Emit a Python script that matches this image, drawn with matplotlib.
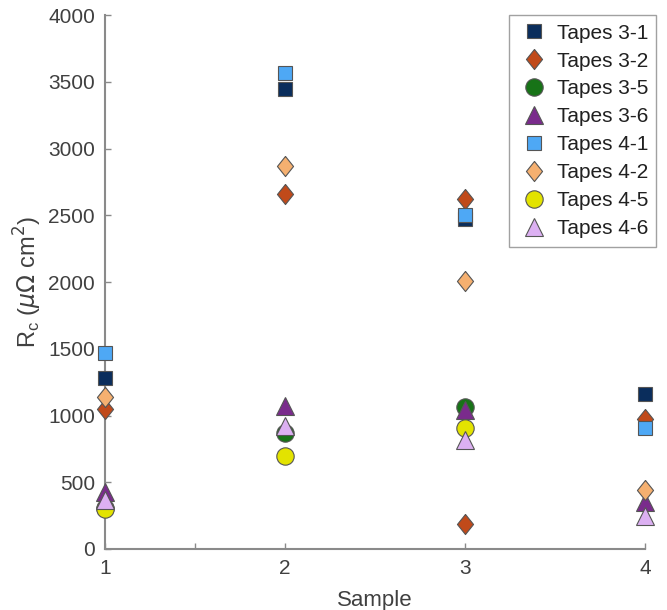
import matplotlib
matplotlib.use("Agg")
import matplotlib.pyplot as plt

plt.rcParams['font.family'] = ['Liberation Sans', 'DejaVu Sans']
plt.rcParams['mathtext.fontset'] = 'dejavusans'

labels = ["Tapes 3-1", "Tapes 3-2", "Tapes 3-5", "Tapes 3-6",
          "Tapes 4-1", "Tapes 4-2", "Tapes 4-5", "Tapes 4-6"]

x_31 = [1, 2, 3, 4];        y_31 = [1280, 3450, 2470, 1160]
x_32 = [1, 2, 3, 3, 4];     y_32 = [1050, 2660, 2620, 190, 975]
x_35 = [1, 2, 3];           y_35 = [310, 870, 1065]
x_36 = [1, 2, 3, 4];        y_36 = [430, 1070, 1040, 355]
x_41 = [1, 2, 3, 4];        y_41 = [1470, 3570, 2500, 905]
x_42 = [1, 2, 3, 4];        y_42 = [1140, 2870, 2010, 440]
x_45 = [1, 2, 3];           y_45 = [300, 700, 910]
x_46 = [1, 2, 3, 4];        y_46 = [370, 920, 820, 250]

xs = [x_31, x_32, x_35, x_36, x_41, x_42, x_45, x_46]
ys = [y_31, y_32, y_35, y_36, y_41, y_42, y_45, y_46]

diamond = [(0, 1), (0.8, 0), (0, -1), (-0.8, 0), (0, 1)]
colors = ["#0a2d5c", "#c04a1a", "#177317", "#7a2b8c",
          "#4ea8f5", "#f5b070", "#e3e300", "#dcb0f2"]
markers = ["s", diamond, "o", "^", "s", diamond, "o", "^"]
sizes = [9.5, 14.5, 12.5, 13, 9.5, 14.5, 12.5, 13]

xticks = [1, 1.5, 2, 3, 4]
xticklabels = ["1", "", "2", "3", "4"]
yticks = list(range(0, 4001, 500))

fig = plt.figure(figsize=(6.67, 6.10), dpi=100)
ax = fig.add_axes([0.157, 0.10, 0.81, 0.875])

for x, y, c, m, s, lab in zip(xs, ys, colors, markers, sizes, labels):
    ax.plot(x, y, linestyle='none', marker=m, markersize=s,
            markerfacecolor=c, markeredgecolor='#555555', markeredgewidth=0.8,
            label=lab, clip_on=False, zorder=3)

ax.set_xlim(1, 4)
ax.set_ylim(0, 4000)
ax.set_xticks(xticks)
ax.set_xticklabels(xticklabels)
ax.set_yticks(yticks)

for sp in ['top', 'right']:
    ax.spines[sp].set_visible(False)
for sp in ['left', 'bottom']:
    ax.spines[sp].set_color('#8a8a8a')
    ax.spines[sp].set_linewidth(1.5)
ax.tick_params(direction='in', length=4, width=1, color='#8a8a8a',
               labelsize=15, labelcolor='#404040', pad=7)

ax.set_xlabel("Sample", fontsize=16, color='#404040', labelpad=9)
ax.set_ylabel(r"R$_{\mathregular{c}}$ ($\mu\Omega$ cm$^2$)", fontsize=17,
              color='#404040', labelpad=3)

leg = ax.legend(loc='upper right', bbox_to_anchor=(1.021, 1.0), borderaxespad=0,
                fontsize=15, frameon=True, fancybox=False, edgecolor='#8a8a8a',
                handletextpad=0.3, borderpad=0.4, labelspacing=0.43,
                handlelength=1.6)
leg.get_frame().set_linewidth(1.0)
for t in leg.get_texts():
    t.set_color('#202020')

fig.savefig("out.png", dpi=100)
